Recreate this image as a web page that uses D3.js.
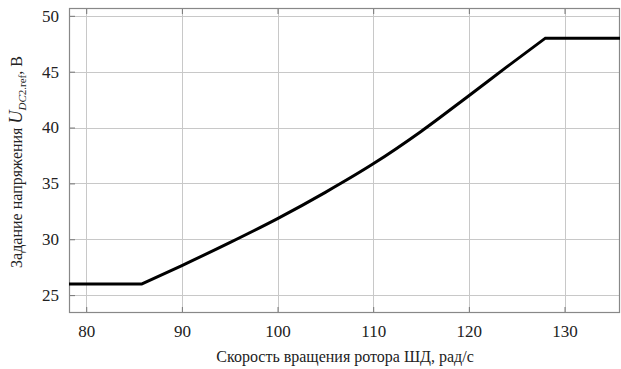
<!DOCTYPE html>
<html>
<head>
<meta charset="utf-8">
<script src="https://cdn.jsdelivr.net/npm/d3@7"></script>
<style>
  body { margin: 0; background: #fff; }
  svg text { font-family: "Liberation Serif", "DejaVu Serif", serif; fill: #222; }
</style>
</head>
<body>
<svg id="chart" width="621" height="369"></svg>
<script>
// rotor speed, rad/s
var speed = [78.2, 85.8, 90, 95, 100, 105, 110, 115, 120, 124, 128, 135.8];
// DC voltage reference, V
var voltage = [26, 26, 27.65, 29.7, 31.85, 34.2, 36.75, 39.65, 42.85, 45.45, 48, 48];
var xTicks = [80, 90, 100, 110, 120, 130];
var yTicks = [25, 30, 35, 40, 45, 50];

var serif = "Liberation Serif, DejaVu Serif, serif";
var width = 621, height = 369;
var margin = { top: 8, right: 1, bottom: 56, left: 69 };

var svg = d3.select("#chart");

var x = d3.scaleLinear().domain([78.2, 135.8]).range([margin.left, width - margin.right]);
var y = d3.scaleLinear().domain([23.4, 50.7]).range([height - margin.bottom, margin.top]);

var plotW = width - margin.left - margin.right;
var plotH = height - margin.top - margin.bottom;

// grid
var grid = svg.append("g");
grid.selectAll("line.vx").data(xTicks).enter().append("line")
    .attr("x1", function (d) { return Math.round(x(d)) + 0.5; })
    .attr("x2", function (d) { return Math.round(x(d)) + 0.5; })
    .attr("y1", margin.top).attr("y2", height - margin.bottom)
    .attr("stroke", "#c8c8c8").attr("stroke-width", 1);
grid.selectAll("line.hy").data(yTicks).enter().append("line")
    .attr("y1", function (d) { return Math.round(y(d)) + 0.5; })
    .attr("y2", function (d) { return Math.round(y(d)) + 0.5; })
    .attr("x1", margin.left).attr("x2", width - margin.right)
    .attr("stroke", "#c8c8c8").attr("stroke-width", 1);

// axes with inward ticks
var xAxis = svg.append("g")
    .attr("transform", "translate(0," + (height - margin.bottom) + ")")
    .call(d3.axisBottom(x).tickValues(xTicks).tickSizeInner(-6).tickSizeOuter(0).tickPadding(12));
var yAxis = svg.append("g")
    .attr("transform", "translate(" + margin.left + ",0)")
    .call(d3.axisLeft(y).tickValues(yTicks).tickSizeInner(-6).tickSizeOuter(0).tickPadding(10));
var topAxis = svg.append("g")
    .attr("transform", "translate(0," + margin.top + ")")
    .call(d3.axisTop(x).tickValues(xTicks).tickSizeInner(-6).tickSizeOuter(0).tickFormat(""));

[xAxis, yAxis, topAxis].forEach(function (a) {
    a.attr("font-family", serif);
    a.select(".domain").remove();
    a.selectAll(".tick line").attr("stroke", "#777");
    a.selectAll(".tick text").attr("font-size", 17).attr("fill", "#222")
        .attr("font-family", serif);
});

// frame
svg.append("rect")
    .attr("x", margin.left + 0.5).attr("y", margin.top + 0.5)
    .attr("width", plotW - 1).attr("height", plotH - 1)
    .attr("fill", "none").attr("stroke", "#888").attr("stroke-width", 1.2);

// curve: flat limits are straight, the middle part is smooth
var pts = speed.map(function (s, i) { return [s, voltage[i]]; });
var lo = pts.slice(0, 2), mid = pts.slice(1, pts.length - 1), hi = pts.slice(pts.length - 2);
var straight = d3.line()
    .x(function (d) { return x(d[0]); })
    .y(function (d) { return y(d[1]); });
var smooth = d3.line()
    .x(function (d) { return x(d[0]); })
    .y(function (d) { return y(d[1]); })
    .curve(d3.curveMonotoneX);

svg.append("path")
    .attr("d", straight(lo) + smooth(mid).replace(/^M/, "L") + straight(hi).replace(/^M/, "L"))
    .attr("fill", "none")
    .attr("stroke", "#000")
    .attr("stroke-width", 3)
    .attr("stroke-linejoin", "miter");

// axis titles
svg.append("text")
    .attr("x", 345).attr("y", 362)
    .attr("text-anchor", "middle")
    .attr("font-family", serif)
    .attr("font-size", 16)
    .text("Скорость вращения ротора ШД, рад/с");

var yt = svg.append("text")
    .attr("transform", "translate(22," + 162 + ") rotate(-90)")
    .attr("text-anchor", "middle")
    .attr("font-family", serif)
    .attr("font-size", 16);
yt.append("tspan").text("Задание напряжения ");
yt.append("tspan").attr("font-style", "italic").attr("font-size", 18).text("U");
yt.append("tspan").attr("dy", 4).attr("font-size", 11).attr("font-style", "italic").text("DC");
yt.append("tspan").attr("font-size", 11).text("2.ref");
yt.append("tspan").attr("dy", -4).text(", В");
</script>
</body>
</html>
